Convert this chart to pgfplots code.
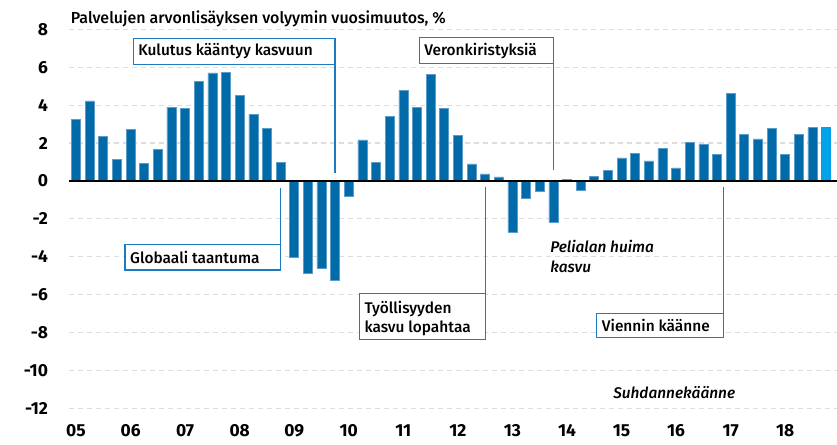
\documentclass[border=0pt]{standalone}
\usepackage{fontspec}
\setmainfont{Fira Sans}[BoldFont={Fira Sans Bold}]
\newfontfamily\medfont{Fira Sans Medium}
\usepackage{pgfplots}
\pgfplotsset{compat=1.18}
\definecolor{barc}{HTML}{006BA8}
\definecolor{baredge}{HTML}{5C9CC8}
\definecolor{lastc}{HTML}{00A2EA}
\definecolor{boxc}{HTML}{1F7BC0}
\definecolor{gridc}{HTML}{DDDDDD}
\newcommand\annfont{\medfont\fontsize{15.5}{19.5}\selectfont}
\newcommand\tickfont{\bfseries\fontsize{17.5}{19}\selectfont}
\begin{document}
\begin{tikzpicture}
\begin{axis}[
  scale only axis, width=767.8bp, height=379.2bp,
  xmin=-0.5, xmax=55.8, ymin=-12, ymax=8,
  axis line style={draw=none}, tick style={draw=none},
  ytick={-12,-10,...,8},
  yticklabels={{-12},{-10},{-8},{-6},{-4},{-2},{0},{2},{4},{6},{8}},
  xtick={0,4,...,52},
  xticklabels={05,06,07,08,09,10,11,12,13,14,15,16,17,18},
  yticklabel style={font=\tickfont, anchor=east, inner sep=0pt, xshift=-21bp},
  xticklabel style={font=\tickfont, anchor=base, inner sep=0pt, yshift=-24bp},
  ymajorgrids, grid style={gridc, line width=1.2bp, dash pattern=on 5bp off 4bp},
  clip=false,
  ybar, bar width=0.66, bar shift=0pt,
]
\addplot[fill=barc, draw=baredge, line width=0.6bp] coordinates {
(0,3.23) (1,4.22) (2,2.36) (3,1.13) (4,2.72) (5,0.92) (6,1.68) (7,3.88)
(8,3.83) (9,5.24) (10,5.70) (11,5.74) (12,4.50) (13,3.51) (14,2.77) (15,0.97)
(16,-4.05) (17,-4.88) (18,-4.59) (19,-5.25) (20,-0.80) (21,2.17) (22,0.99) (23,3.41)
(24,4.79) (25,3.90) (26,5.63) (27,3.81) (28,2.42) (29,0.90) (30,0.37) (31,0.21)
(32,-2.69) (33,-0.90) (34,-0.57) (35,-2.17) (36,0.07) (37,-0.51) (38,0.26) (39,0.55)
(40,1.22) (41,1.45) (42,1.06) (43,1.70) (44,0.69) (45,2.05) (46,1.92) (47,1.39)
(48,4.63) (49,2.44) (50,2.22) (51,2.79) (52,1.41) (53,2.45) (54,2.81)
};
\addplot[fill=lastc, draw=lastc, line width=0.6bp] coordinates {(55,2.82)};
\draw[black, line width=1.8bp] (axis cs:-0.5,0) -- (axis cs:55.8,0);
% title
\node[anchor=base west, inner sep=0pt, font=\medfont\fontsize{16}{19}\selectfont] at (axis cs:-0.39,8.31) {Palvelujen arvonlisäyksen volyymin vuosimuutos, \%};
% annotations
\draw[boxc, line width=1.3bp, fill=white] (axis cs:4.20,7.52) rectangle (axis cs:19,6.16);
\draw[boxc, line width=1.3bp] (axis cs:19,7.52) -- (axis cs:19,0.40);
\node[anchor=west, inner sep=0pt, font=\annfont] at (axis cs:4.55,6.84) {Kulutus kääntyy kasvuun};
\draw[boxc, line width=1.3bp, fill=white] (axis cs:25.18,7.55) rectangle (axis cs:35,6.20);
\draw[boxc, line width=1.3bp] (axis cs:35,7.55) -- (axis cs:35,0.58);
\node[anchor=west, inner sep=0pt, font=\annfont] at (axis cs:25.52,6.87) {Veronkiristyksiä};
\draw[boxc, line width=1.3bp, fill=white] (axis cs:3.59,-3.34) rectangle (axis cs:15,-4.70);
\draw[boxc, line width=1.3bp] (axis cs:15,-0.35) -- (axis cs:15,-3.34);
\node[anchor=west, inner sep=0pt, font=\annfont] at (axis cs:3.96,-4.02) {Globaali taantuma};
\draw[boxc, line width=1.3bp, fill=white] (axis cs:20.78,-5.95) rectangle (axis cs:30,-8.37);
\draw[boxc, line width=1.3bp] (axis cs:30,-0.30) -- (axis cs:30,-5.95);
\node[anchor=west, inner sep=0pt, font=\annfont, align=left] at (axis cs:21.14,-7.26) {Työllisyyden\\kasvu lopahtaa};
\draw[boxc, line width=1.3bp, fill=white] (axis cs:38.19,-6.99) rectangle (axis cs:47.47,-8.25);
\draw[boxc, line width=1.3bp] (axis cs:47.47,-0.30) -- (axis cs:47.47,-6.99);
\node[anchor=west, inner sep=0pt, font=\annfont] at (axis cs:38.55,-7.62) {Viennin käänne};
\node[anchor=west, inner sep=0pt, font=\annfont\itshape, align=left] at (axis cs:34.76,-3.98) {Pelialan huima\\kasvu};
\node[anchor=west, inner sep=0pt, font=\annfont\itshape] at (axis cs:39.38,-11.16) {Suhdannekäänne};
\end{axis}
\pgfresetboundingbox
\useasboundingbox ([shift={(-69.2bp,-36.5bp)}]current axis.south west) rectangle ++(837bp,445bp);
\end{tikzpicture}
\end{document}
